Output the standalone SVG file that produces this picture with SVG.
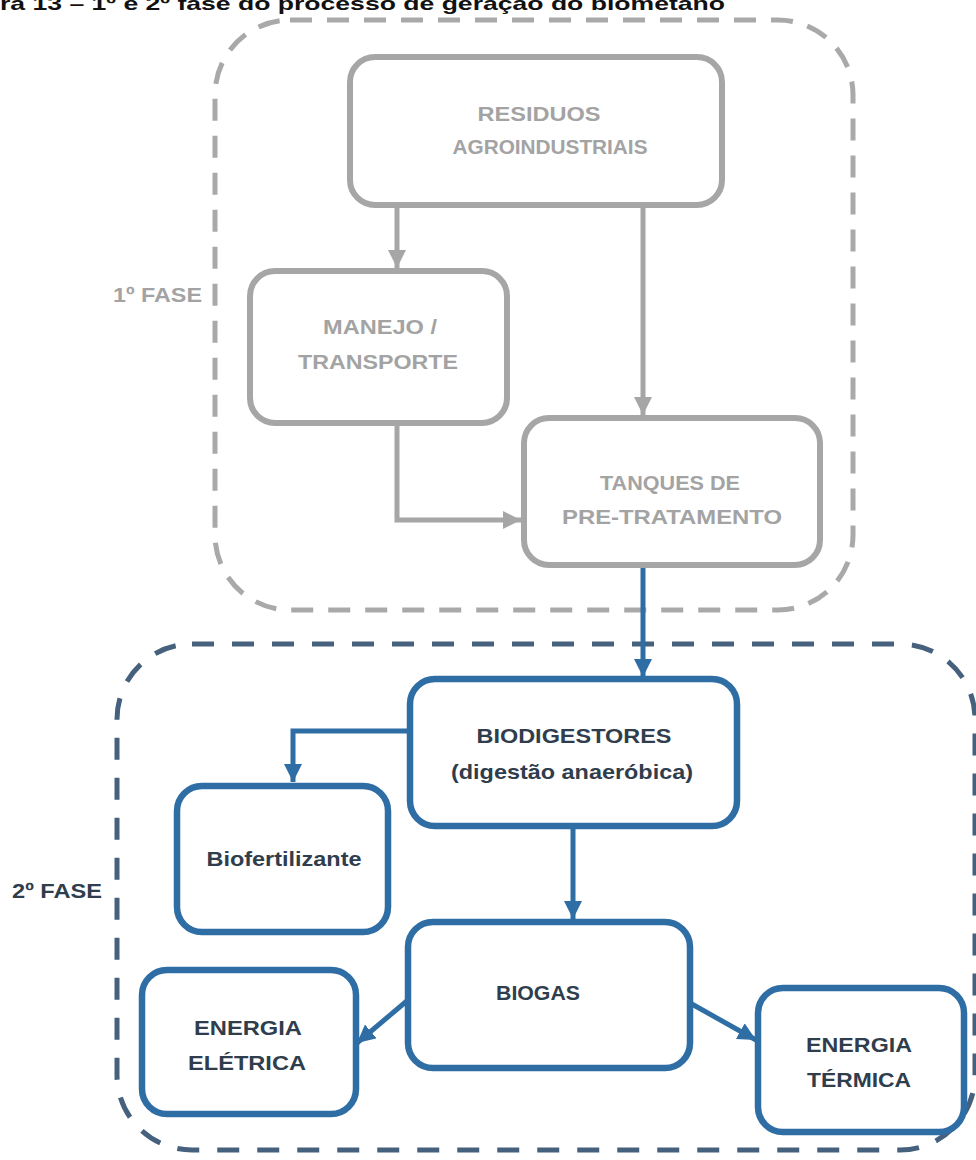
<svg xmlns="http://www.w3.org/2000/svg" width="976" height="1160" viewBox="0 0 976 1160">
<style>
.g{fill:#fff;stroke:#a6a6a6;stroke-width:6}
.b{fill:#fff;stroke:#2f6da5;stroke-width:6.5}
.tg{font-family:"Liberation Sans",Arial,sans-serif;font-weight:bold;font-size:21px;fill:#a3a3a3;text-anchor:middle}
.tb{font-family:"Liberation Sans",Arial,sans-serif;font-weight:bold;font-size:21px;fill:#2f3d4d;text-anchor:middle}
.cg{fill:none;stroke:#a6a6a6;stroke-width:5}
.cb{fill:none;stroke:#2f6da5;stroke-width:5}
</style>
<defs>
<marker id="ag" markerUnits="userSpaceOnUse" markerWidth="20" markerHeight="20" refX="18" refY="9" orient="auto"><path d="M0,0 L18,9 L0,18 z" fill="#a6a6a6"/></marker>
<marker id="ab" markerUnits="userSpaceOnUse" markerWidth="20" markerHeight="20" refX="18" refY="9" orient="auto"><path d="M0,0 L18,9 L0,18 z" fill="#2f6da5"/></marker>
</defs>
<rect width="976" height="1160" fill="#fff"/>
<text x="0" y="10" font-family="Liberation Sans,Arial,sans-serif" font-weight="bold" font-size="19" fill="#111" textLength="725" lengthAdjust="spacingAndGlyphs">ra 13 – 1º e 2º fase do processo de geração do biometano</text>

<g id="fase1">
<rect x="215" y="20" width="638" height="590" rx="75" fill="none" stroke="#a9a9a9" stroke-width="5" stroke-dasharray="22 15"/>
<text x="113" y="302" font-family="Liberation Sans,Arial,sans-serif" font-weight="bold" font-size="20" fill="#a3a3a3" textLength="89" lengthAdjust="spacingAndGlyphs">1º FASE</text>
</g>
<g id="fase2">
<rect x="117" y="644" width="858" height="506" rx="75" fill="none" stroke="#46617d" stroke-width="5" stroke-dasharray="22 18"/>
<text x="12" y="898" font-family="Liberation Sans,Arial,sans-serif" font-weight="bold" font-size="20" fill="#2f3d4d" textLength="90" lengthAdjust="spacingAndGlyphs">2º FASE</text>
</g>

<g id="connectors">
<path class="cg" d="M397,205 V268" marker-end="url(#ag)"/>
<path class="cg" d="M643,205 V415" marker-end="url(#ag)"/>
<path class="cg" d="M397,423 V520 H521" marker-end="url(#ag)"/>
<path class="cb" d="M643,565 V677" marker-end="url(#ab)"/>
<path class="cb" d="M410,731 H293 V782" marker-end="url(#ab)"/>
<path class="cb" d="M573,826 V919" marker-end="url(#ab)"/>
<path class="cb" d="M408,1000 L357,1043" marker-end="url(#ab)"/>
<path class="cb" d="M690,1003 L756,1040" marker-end="url(#ab)"/>
</g>

<g id="residuos">
<rect class="g" x="350" y="57" width="372" height="148" rx="25"/>
<text class="tg" x="539" y="121" textLength="123" lengthAdjust="spacingAndGlyphs">RESIDUOS</text>
<text class="tg" x="550" y="154" textLength="195" lengthAdjust="spacingAndGlyphs">AGROINDUSTRIAIS</text>
</g>
<g id="manejo">
<rect class="g" x="250" y="271" width="257" height="152" rx="25"/>
<text class="tg" x="380" y="334" textLength="114" lengthAdjust="spacingAndGlyphs">MANEJO /</text>
<text class="tg" x="378" y="369" textLength="160" lengthAdjust="spacingAndGlyphs">TRANSPORTE</text>
</g>
<g id="tanques">
<rect class="g" x="524" y="418" width="296" height="147" rx="25"/>
<text class="tg" x="670" y="490" textLength="140" lengthAdjust="spacingAndGlyphs">TANQUES DE</text>
<text class="tg" x="672" y="524" textLength="220" lengthAdjust="spacingAndGlyphs">PRE-TRATAMENTO</text>
</g>
<g id="biodigestores">
<rect class="b" x="410" y="679" width="327" height="147" rx="25"/>
<text class="tb" x="574" y="743" textLength="195" lengthAdjust="spacingAndGlyphs">BIODIGESTORES</text>
<text class="tb" x="572" y="779" textLength="242" lengthAdjust="spacingAndGlyphs">(digestão anaeróbica)</text>
</g>
<g id="biofertilizante">
<rect class="b" x="177" y="786" width="211" height="146" rx="25"/>
<text class="tb" x="284" y="866" textLength="155" lengthAdjust="spacingAndGlyphs">Biofertilizante</text>
</g>
<g id="biogas">
<rect class="b" x="408" y="922" width="282" height="146" rx="25"/>
<text class="tb" x="538" y="1000" textLength="84" lengthAdjust="spacingAndGlyphs">BIOGAS</text>
</g>
<g id="eletrica">
<rect class="b" x="142" y="970" width="214" height="144" rx="25"/>
<text class="tb" x="248" y="1035" textLength="108" lengthAdjust="spacingAndGlyphs">ENERGIA</text>
<text class="tb" x="247" y="1070" textLength="118" lengthAdjust="spacingAndGlyphs">ELÉTRICA</text>
</g>
<g id="termica">
<rect class="b" x="758" y="988" width="206" height="144" rx="25"/>
<text class="tb" x="859" y="1052" textLength="106" lengthAdjust="spacingAndGlyphs">ENERGIA</text>
<text class="tb" x="859" y="1087" textLength="104" lengthAdjust="spacingAndGlyphs">TÉRMICA</text>
</g>
</svg>
